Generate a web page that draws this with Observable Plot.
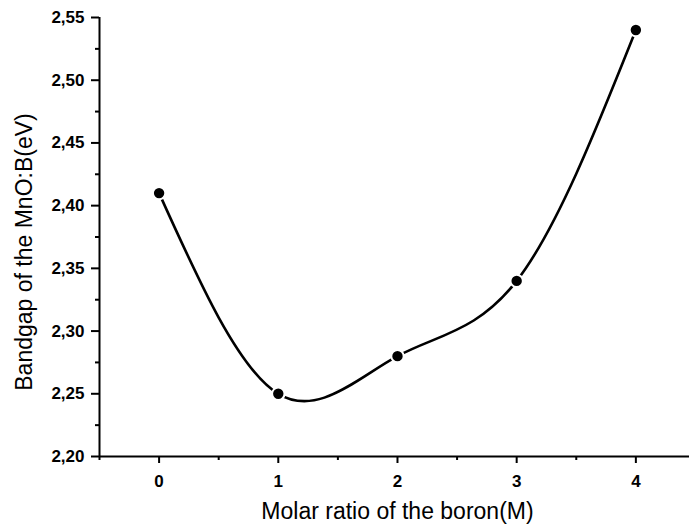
<!DOCTYPE html>
<html>
<head>
<meta charset="utf-8">
<script src="https://cdn.jsdelivr.net/npm/d3@7"></script>
<script src="https://cdn.jsdelivr.net/npm/@observablehq/plot@0.6"></script>
<style>
  html, body { margin: 0; padding: 0; background: #fff; }
  #chart svg { display: block; }
  #chart g[aria-label="x-axis tick label"] text,
  #chart g[aria-label="y-axis tick label"] text { font-size: 17px; font-weight: bold; }
</style>
</head>
<body>
<div id="chart"></div>
<script>
const molarRatio = [0, 1, 2, 3, 4];
const bandgap = [2.41, 2.25, 2.28, 2.34, 2.54];
const xMajorTicks = [0, 1, 2, 3, 4];
const xMinorTicks = [-0.5, 0.5, 1.5, 2.5, 3.5];
const yMajorTicks = [2.20, 2.25, 2.30, 2.35, 2.40, 2.45, 2.50, 2.55];
const yMinorTicks = [2.225, 2.275, 2.325, 2.375, 2.425, 2.475, 2.525];

const data = molarRatio.map((x, i) => ({x, y: bandgap[i]}));
const fmt = d => d.toFixed(2).replace(".", ",");

const chart = Plot.plot({
  width: 689,
  height: 532,
  marginLeft: 99,
  marginRight: 0,
  marginTop: 17,
  marginBottom: 76,
  style: {fontFamily: "Liberation Sans, Arial, sans-serif", color: "#000", background: "#fff"},
  x: {domain: [-0.5, 4.45]},
  y: {domain: [2.20, 2.55]},
  marks: [
    Plot.axisX({ticks: xMajorTicks, tickSize: 7, tickPadding: 11, tickFormat: d => String(d),
      fontSize: 17, fontWeight: "bold", label: null, strokeWidth: 2}),
    Plot.axisX({ticks: xMinorTicks, tickSize: 4, tickFormat: () => "", label: null, strokeWidth: 2}),
    Plot.axisY({ticks: yMajorTicks, tickSize: 8, tickPadding: 7, tickFormat: fmt,
      fontSize: 17, fontWeight: "bold", label: null, strokeWidth: 2}),
    Plot.axisY({ticks: yMinorTicks, tickSize: 4, tickFormat: () => "", label: null, strokeWidth: 2}),
    Plot.ruleX([-0.5], {strokeWidth: 2}),
    Plot.ruleY([2.20], {strokeWidth: 2}),
    Plot.line(data, {x: "x", y: "y", curve: "natural", strokeWidth: 2.6, stroke: "#000"}),
    Plot.dot(data, {x: "x", y: "y", r: 6.2, fill: "#000", stroke: "#fff", strokeWidth: 2}),
    Plot.text(["Molar ratio of the boron(M)"], {frameAnchor: "bottom", dx: 3, dy: 62, fontSize: 23, fill: "#000"}),
    Plot.text(["Bandgap of the MnO:B(eV)"], {frameAnchor: "left", textAnchor: "middle", dx: -75, dy: 15, rotate: -90, fontSize: 23, fill: "#000"})
  ]
});
document.getElementById("chart").appendChild(chart);
</script>
</body>
</html>
